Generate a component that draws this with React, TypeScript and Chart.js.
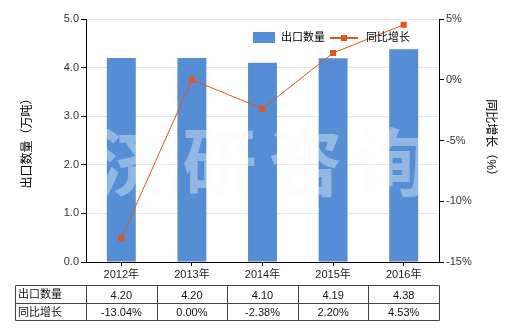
import React, { useEffect, useRef } from "react";
import { Chart, registerables } from "chart.js";

Chart.register(...registerables);

const categories = ["2012年", "2013年", "2014年", "2015年", "2016年"];
const exportQty = [4.2, 4.2, 4.1, 4.19, 4.38];
const yoyGrowth = [-13.04, 0.0, -2.38, 2.2, 4.53];
const qtyLabels = ["4.20", "4.20", "4.10", "4.19", "4.38"];
const growthLabels = ["-13.04%", "0.00%", "-2.38%", "2.20%", "4.53%"];
const seriesNames = ["出口数量", "同比增长"];
const leftTitle = "出口数量（万吨）";
const rightTitle = "同比增长（%）";
const watermarkChars = ["济", "研", "咨", "询"];

const FAMILY = "'Liberation Sans','Noto Sans CJK SC',sans-serif";
const BAR_COLOR = "#558ED5";
const LINE_COLOR = "#E2561C";

const overlayPlugin = {
  id: "overlay",
  afterDatasetDraw(chart: any, args: any) {
    if (args.index !== 0) return;
    const ctx = chart.ctx;
    const ca = chart.chartArea;
    ctx.save();
    ctx.font = `bold 74px 'Noto Sans CJK SC', sans-serif`;
    ctx.fillStyle = "rgba(246,250,246,0.38)";
    ctx.textAlign = "center";
    ctx.textBaseline = "middle";
    const cx = (ca.left + ca.right) / 2;
    const spacing = 86;
    watermarkChars.forEach((ch, i) => {
      ctx.fillText(ch, cx + (i - 1.5) * spacing, 162);
    });
    ctx.restore();
  },
  afterDraw(chart: any) {
    const ctx = chart.ctx;
    const x = chart.scales.x;
    const ca = chart.chartArea;
    ctx.save();
    // legend
    ctx.fillStyle = BAR_COLOR;
    ctx.fillRect(253, 32, 22, 11);
    ctx.font = `11px ${FAMILY}`;
    ctx.fillStyle = "#000";
    ctx.textAlign = "left";
    ctx.textBaseline = "middle";
    ctx.fillText(seriesNames[0], 281, 38);
    ctx.strokeStyle = LINE_COLOR;
    ctx.lineWidth = 2;
    ctx.beginPath();
    ctx.moveTo(330, 38);
    ctx.lineTo(358, 38);
    ctx.stroke();
    ctx.fillStyle = LINE_COLOR;
    ctx.fillRect(341, 35, 6, 6);
    ctx.fillStyle = "#000";
    ctx.fillText(seriesNames[1], 366, 38);

    // table
    const n = categories.length;
    const step = x.getPixelForValue(1) - x.getPixelForValue(0);
    const left = 15.5;
    const right = Math.round(ca.left + step * n) + 0.5;
    const rows = [285.5, 303.5, 320.5];
    ctx.strokeStyle = "#444";
    ctx.lineWidth = 1;
    ctx.beginPath();
    rows.forEach((ry) => {
      ctx.moveTo(left, ry);
      ctx.lineTo(right, ry);
    });
    ctx.moveTo(left, rows[0]);
    ctx.lineTo(left, rows[2]);
    for (let i = 0; i <= n; i++) {
      const vx = Math.round(ca.left + step * i) + 0.5;
      ctx.moveTo(vx, rows[0]);
      ctx.lineTo(vx, rows[2]);
    }
    ctx.stroke();
    ctx.fillStyle = "#111";
    ctx.textAlign = "left";
    ctx.fillText(seriesNames[0], 18, 295);
    ctx.fillText(seriesNames[1], 18, 312.5);
    ctx.textAlign = "center";
    for (let i = 0; i < n; i++) {
      const cx = x.getPixelForValue(i);
      ctx.fillText(qtyLabels[i], cx, 295.5);
      ctx.fillText(growthLabels[i], cx, 313);
    }
    ctx.restore();
  },
};

export default function App() {
  const ref = useRef<HTMLCanvasElement>(null);
  useEffect(() => {
    const canvas = ref.current;
    if (!canvas) return;
    const tickFont = { family: FAMILY, size: 11 };
    const titleFont = { family: FAMILY, size: 12 };
    const chart = new Chart(canvas, {
      type: "bar",
      data: {
        labels: categories,
        datasets: [
          {
            type: "bar",
            label: seriesNames[0],
            data: exportQty,
            backgroundColor: BAR_COLOR,
            yAxisID: "y",
            barPercentage: 0.41,
            categoryPercentage: 1,
            order: 1,
          },
          {
            type: "line",
            label: seriesNames[1],
            data: yoyGrowth,
            yAxisID: "y1",
            borderColor: LINE_COLOR,
            backgroundColor: LINE_COLOR,
            borderWidth: 1,
            pointStyle: "rect",
            pointRadius: 4.3,
            pointBorderWidth: 0,
            pointBackgroundColor: LINE_COLOR,
            tension: 0,
            order: 0,
          } as any,
        ],
      },
      options: {
        responsive: false,
        animation: false,
        devicePixelRatio: 1,
        layout: { padding: { top: 19, left: 0, right: 0, bottom: 0 } },
        plugins: { legend: { display: false }, tooltip: { enabled: false } },
        scales: {
          x: {
            offset: true,
            grid: {
              display: true,
              drawOnChartArea: false,
              offset: false,
              tickLength: 4,
              tickColor: "#000",
            },
            border: { color: "#000" },
            ticks: { font: tickFont, color: "#222", padding: 2, maxRotation: 0 },
            afterFit: (s: any) => {
              s.height = 68;
            },
          },
          y: {
            position: "left",
            min: 0,
            max: 5,
            ticks: {
              stepSize: 1,
              callback: (v: any) => Number(v).toFixed(1),
              font: tickFont,
              color: "#333",
              padding: 2,
            },
            grid: { color: "#e6e6e6", tickLength: 5, tickColor: "#000" },
            border: { color: "#000" },
            title: {
              display: true,
              text: leftTitle,
              font: titleFont,
              color: "#000",
              padding: { top: 20, bottom: 0 },
            },
            afterFit: (s: any) => {
              s.width = 86;
            },
          },
          y1: {
            position: "right",
            min: -15,
            max: 5,
            ticks: {
              stepSize: 5,
              callback: (v: any) => `${v}%`,
              font: tickFont,
              color: "#333",
              padding: 2,
            },
            grid: { drawOnChartArea: false, tickLength: 5, tickColor: "#000" },
            border: { color: "#000" },
            title: {
              display: true,
              text: rightTitle,
              font: titleFont,
              color: "#000",
              padding: { top: 22, bottom: 0 },
            },
            afterFit: (s: any) => {
              s.width = 81;
            },
          },
        },
      } as any,
      plugins: [overlayPlugin],
    });
    return () => chart.destroy();
  }, []);
  return (
    <div style={{ position: "absolute", left: 0, top: 0, width: 520, height: 330, background: "#fff" }}>
      <canvas ref={ref} width={520} height={330} style={{ display: "block" }} />
    </div>
  );
}
